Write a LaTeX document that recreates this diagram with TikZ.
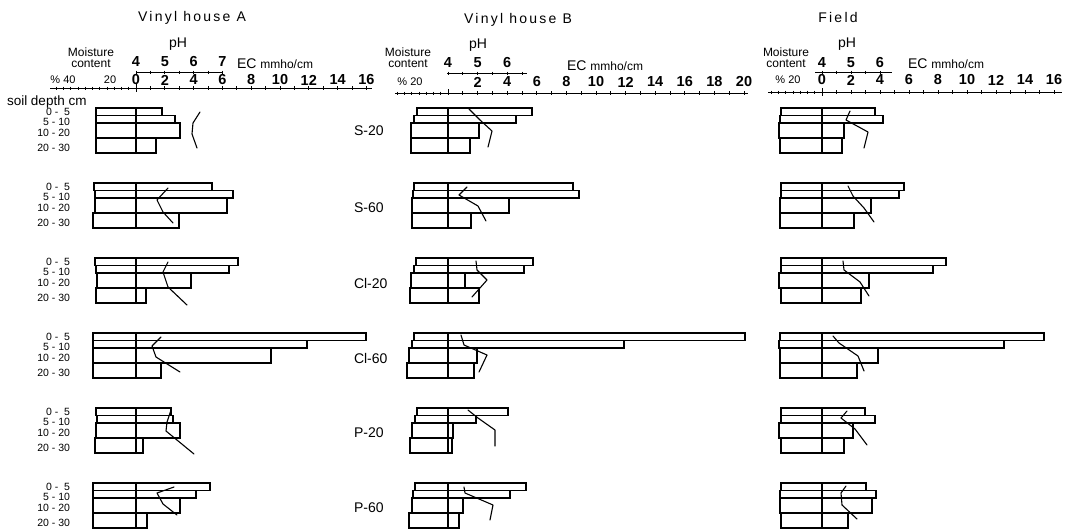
\documentclass[tikz,border=0pt]{standalone}
\usepackage{fontspec}
\setmainfont{Liberation Sans}
\newfontfamily\titlefont[LetterSpace=16]{Liberation Sans}
\newcommand\fs[1]{\fontsize{#1}{#1}\selectfont}
\newcommand\soilbars[9]{%
  \draw[bar] (#1,0) rectangle (#2,7.5);
  \draw[bar] (#3,7.5) rectangle (#4,15);
  \draw[bar] (#5,15) rectangle (#6,30);
  \draw[bar] (#7,30) rectangle (#8,45);
  \draw[bar] (#9,0) -- (#9,45);
}
\tikzset{
  bar/.style={line width=1.1pt},
  axisline/.style={line width=1pt},
  phcurve/.style={line width=1.1pt, line join=round, line cap=round},
  lbl/.style={inner sep=0pt, outer sep=0pt},
  title/.style={lbl, font=\titlefont\fs{14}},
  phtitle/.style={lbl, font=\fs{14}},
  ticklbl/.style={lbl, font=\bfseries\fs{14.5}},
  mctext/.style={lbl, font=\fs{12}},
  pctlbl/.style={lbl, font=\fs{11}},
  deplbl/.style={lbl, font=\fs{10.5}, anchor=east},
  grplbl/.style={lbl, font=\fs{14}, anchor=west},
  eclbl/.style={lbl, font=\fs{14}, anchor=west},
}
\begin{document}
\begin{tikzpicture}[x=1pt, y=-1pt]
\useasboundingbox (0,0) rectangle (1073,531);

% ---------- titles ----------
\node[title] (tA) at (192,18) {Vinyl house A};
\node[title] (tB) at (518,20) {Vinyl house B};
\node[title] (tF) at (838,17) {Field};

\node[phtitle] (phA) at (178,44) {pH};
\node[phtitle] (phB) at (478,45) {pH};
\node[phtitle] (phF) at (847,44) {pH};

\node[mctext] (mA1) at (91,52) {Moisture};
\node[mctext] (mA2) at (91,63.5) {content};
\node[mctext] (mB1) at (408,52) {Moisture};
\node[mctext] (mB2) at (408,63.5) {content};
\node[mctext] (mF1) at (786,52) {Moisture};
\node[mctext] (mF2) at (786,63.5) {content};

\node[eclbl] (ecA) at (237,64) {EC {\fs{12}mmho/cm}};
\node[eclbl] (ecB) at (567,66) {EC {\fs{12}mmho/cm}};
\node[eclbl] (ecF) at (908,64) {EC {\fs{12}mmho/cm}};

% ---------- pH scales ----------
\draw[axisline] (136,72) -- (222,72);
\foreach \k in {0,...,6} \draw[axisline] ({136+14.4*\k},70.5) -- ({136+14.4*\k},73.5);
\foreach \v [count=\i from 0] in {4,5,6,7}
  \node[ticklbl] (pA\i) at ({136+28.8*\i},62) {\v};

\draw[axisline] (447,73) -- (527,73);
\foreach \k in {0,...,5} \draw[axisline] ({448+14.8*\k},71.5) -- ({448+14.8*\k},74.5);
\foreach \v [count=\i from 0] in {4,5,6}
  \node[ticklbl] (pB\i) at ({448+29.6*\i},63) {\v};

\draw[axisline] (815,72) -- (892,72);
\foreach \k in {0,...,4} \draw[axisline] ({822+14.5*\k},70.5) -- ({822+14.5*\k},73.5);
\foreach \v [count=\i from 0] in {4,5,6}
  \node[ticklbl] (pF\i) at ({822+29*\i},63) {\v};

% ---------- EC / moisture axes ----------
% A
\draw[axisline] (50,88) -- (372,88);
\foreach \k in {0,...,16} \draw[axisline] ({136+14.4*\k},86) -- ({136+14.4*\k},90);
\foreach \k in {1,...,11} \draw[axisline] ({136-7.25*\k},86.5) -- ({136-7.25*\k},89.5);
\draw[axisline] (136,84) -- (136,92);
\foreach \v [count=\i from 0] in {0,2,4,6,8,10,12,14,16}
  \node[ticklbl] (eA\i) at ({136+28.8*\i},80) {\v};
\node[pctlbl] (qA1) at (63,80) {\% 40};
\node[pctlbl] (qA2) at (110,80) {20};
% B
\draw[axisline] (395,93) -- (748,93);
\foreach \k in {0,...,20} \draw[axisline] ({448+14.8*\k},91) -- ({448+14.8*\k},95);
\foreach \k in {1,...,7} \draw[axisline] ({448-7.25*\k},91.5) -- ({448-7.25*\k},94.5);
\draw[axisline] (448,89) -- (448,95);
\foreach \v [count=\i from 1] in {2,4,6,8,10,12,14,16,18,20}
  \node[ticklbl] (eB\i) at ({448+29.6*\i},82) {\v};
\node[pctlbl] (qB) at (410,82) {\% 20};
% F
\draw[axisline] (768,92) -- (1062,92);
\foreach \k in {0,...,16} \draw[axisline] ({822+14.5*\k},90) -- ({822+14.5*\k},94);
\foreach \k in {1,...,7} \draw[axisline] ({822-7.25*\k},90.5) -- ({822-7.25*\k},93.5);
\draw[axisline] (822,88) -- (822,96);
\foreach \v [count=\i from 0] in {0,2,4,6,8,10,12,14,16}
  \node[ticklbl] (eF\i) at ({822+29*\i},80) {\v};
\node[pctlbl] (qF) at (788,80) {\% 20};

% ---------- depth labels ----------
\node[lbl, font=\fs{13.5}, anchor=west] (sd) at (7,102) {soil depth cm};
\foreach \t [count=\n] in {108,183,258,333,408,483} {
  \node[deplbl] (da\n) at (70,{\t+4}) {0 -\ \ 5};
  \node[deplbl] (db\n) at (70,{\t+13.5}) {5 - 10};
  \node[deplbl] (dc\n) at (70,{\t+25}) {10 - 20};
  \node[deplbl] (dd\n) at (70,{\t+40}) {20 - 30};
}
\foreach \t/\nm [count=\n] in {106/S-20,183/S-60,258/Cl-20,333/Cl-60,408/P-20,483/P-60}
  \node[grplbl] (g\n) at (354,{\t+25}) {\nm};

% ---------- Vinyl house A bars ----------
\begin{scope}[shift={(0,108)}]\soilbars{96}{162}{96}{175}{96}{180}{96}{156}{136}\end{scope}
\begin{scope}[shift={(0,183)}]\soilbars{94}{212}{95}{233}{95}{227}{93}{179}{136}\end{scope}
\begin{scope}[shift={(0,258)}]\soilbars{95}{238}{96}{229}{97}{191}{96}{146}{136}\end{scope}
\begin{scope}[shift={(0,333)}]\soilbars{93}{366}{93}{307}{93}{271}{93}{161}{136}\end{scope}
\begin{scope}[shift={(0,408)}]\soilbars{96}{171}{97}{173}{96}{180}{95}{143}{136}\end{scope}
\begin{scope}[shift={(0,483)}]\soilbars{93}{210}{93}{196}{93}{180}{93}{147}{136}\end{scope}
\draw[phcurve] (200,112) -- (193,123) -- (192,134) -- (197,148);
\draw[phcurve] (168,188) -- (157,200) -- (163,212) -- (173,223);
\draw[phcurve] (168,262) -- (163,272) -- (168,287) -- (187,305);
\draw[phcurve] (161,337) -- (152,346) -- (156,357) -- (180,372);
\draw[phcurve] (171,410) -- (167,422) -- (166,431) -- (194,454);
\draw[phcurve] (174,487) -- (157,493) -- (163,504) -- (177,515);

% ---------- Vinyl house B bars ----------
\begin{scope}[shift={(0,108)}]\soilbars{417}{532}{414}{516}{411}{479}{411}{470}{448}\end{scope}
\begin{scope}[shift={(0,183)}]\soilbars{414}{573}{413}{579}{412}{509}{412}{471}{448}\end{scope}
\begin{scope}[shift={(0,258)}]\soilbars{416}{533}{414}{524}{411}{465}{410}{479}{448}\end{scope}
\begin{scope}[shift={(0,333)}]\soilbars{414}{745}{412}{624}{409}{477}{407}{474}{448}\end{scope}
\begin{scope}[shift={(0,408)}]\soilbars{417}{508}{415}{476}{412}{453}{410}{452}{448}\end{scope}
\begin{scope}[shift={(0,483)}]\soilbars{415}{526}{413}{510}{412}{463}{409}{459}{448}\end{scope}
\draw[phcurve] (469,109) -- (480,120) -- (492,131) -- (488,147);
\draw[phcurve] (467,187) -- (459,195) -- (478,206) -- (486,221);
\draw[phcurve] (476,261) -- (477,270) -- (487,280) -- (472,297);
\draw[phcurve] (461,335) -- (464,345) -- (487,355) -- (479,372);
\draw[phcurve] (468,410) -- (478,418) -- (495,430) -- (495,446);
\draw[phcurve] (464,487) -- (465,493) -- (493,505) -- (490,520);

% ---------- Field bars ----------
\begin{scope}[shift={(0,108)}]\soilbars{781}{875}{780}{883}{779}{844}{780}{842}{822}\end{scope}
\begin{scope}[shift={(0,183)}]\soilbars{781}{904}{781}{899}{780}{871}{780}{854}{822}\end{scope}
\begin{scope}[shift={(0,258)}]\soilbars{781}{946}{781}{933}{779}{869}{781}{861}{822}\end{scope}
\begin{scope}[shift={(0,333)}]\soilbars{780}{1044}{779}{1004}{780}{878}{780}{857}{822}\end{scope}
\begin{scope}[shift={(0,408)}]\soilbars{781}{865}{781}{875}{779}{853}{781}{844}{822}\end{scope}
\begin{scope}[shift={(0,483)}]\soilbars{781}{866}{780}{876}{780}{872}{781}{848}{822}\end{scope}
\draw[phcurve] (850,111) -- (846,120) -- (868,132) -- (864,148);
\draw[phcurve] (848,186) -- (853,196) -- (864,208) -- (874,222);
\draw[phcurve] (843,261) -- (844,270) -- (860,282) -- (869,296);
\draw[phcurve] (833,336) -- (839,343) -- (858,356) -- (864,371);
\draw[phcurve] (847,411) -- (841,418) -- (855,429) -- (867,445);
\draw[phcurve] (846,486) -- (841,493) -- (842,505) -- (857,519);
\end{tikzpicture}
\end{document}
